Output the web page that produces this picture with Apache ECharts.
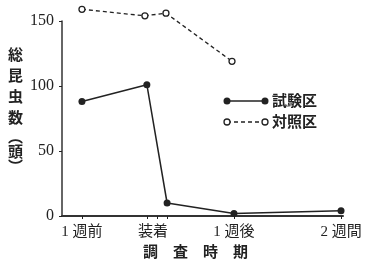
<!DOCTYPE html>
<html><head><meta charset="utf-8">
<script src="https://cdn.jsdelivr.net/npm/echarts@6/dist/echarts.min.js"></script>
<style>html,body{margin:0;padding:0;background:#fff}#c{width:369px;height:266px}</style>
</head><body><div id="c"></div>
<script>
// Data (x in arbitrary time-position units 0..100)
const xLabels = ['1 週前', '装着', '1 週後', '2 週間'];
const xLabelPos = [7.1, 32.4, 61.2, 99.3];
const xTickPos = [7.1, 30.2, 33.8, 37.4, 61.2, 99.3];
const testX = [7.1, 30.2, 37.4, 61.2, 99.3];
const testY = [88, 101, 10, 2, 4];
const ctrlX = [7.1, 29.5, 37.0, 60.5];
const ctrlY = [159, 154, 156, 119];
const yTicks = [0, 50, 100, 150];
const seriesNames = ['試験区', '対照区'];

const chart = echarts.init(document.getElementById('c'));
const ink = '#222';
const font = "'Liberation Serif', 'Noto Sans CJK JP', serif";
chart.setOption({
  animation: false,
  backgroundColor: '#fff',
  grid: { left: 62, right: 26, top: 21, bottom: 50 },
  xAxis: {
    type: 'value', min: 0, max: 100,
    splitLine: { show: false },
    axisLine: { lineStyle: { color: '#333', width: 2 } },
    axisTick: { show: true, customValues: xTickPos, length: 3, lineStyle: { color: ink } },
    axisLabel: {
      customValues: xLabelPos, margin: 9, color: ink, fontSize: 15, fontFamily: font,
      formatter: v => { const i = xLabelPos.findIndex(p => Math.abs(p - v) < 0.01); return i >= 0 ? xLabels[i] : ''; }
    }
  },
  yAxis: {
    type: 'value', min: 0, max: 150, interval: 50,
    splitLine: { show: false },
    axisLine: { show: true, lineStyle: { color: '#333', width: 1.5 } },
    axisTick: { show: true, length: 3, lineStyle: { color: ink } },
    axisLabel: { margin: 8, color: ink, fontSize: 16, fontFamily: font,
      formatter: v => yTicks.includes(v) ? String(v) : '' }
  },
  series: [
    { name: seriesNames[0], type: 'line', clip: false,
      data: testX.map((x, i) => [x, testY[i]]),
      symbol: 'circle', symbolSize: 7,
      itemStyle: { color: ink }, lineStyle: { color: ink, width: 1.5 } },
    { name: seriesNames[1], type: 'line', clip: false,
      data: ctrlX.map((x, i) => [x, ctrlY[i]]),
      symbol: 'circle', symbolSize: 6,
      itemStyle: { color: '#fff', borderColor: ink, borderWidth: 1.3 },
      lineStyle: { color: ink, width: 1.3, type: [4, 3] } }
  ],
  graphic: [
    { type: 'text', left: 8, top: 44, style: { text: '総\n昆\n虫\n数', font: "bold 15px 'Noto Sans CJK JP'", fill: ink, lineHeight: 21 } },
    { type: 'text', left: 8, top: 129, style: { text: '︵\n頭\n︶', font: "bold 15px 'Noto Sans CJK JP'", fill: ink, lineHeight: 15 } },
    { type: 'text', left: 143, top: 244, style: { text: '調　査　時　期', font: "bold 15px 'Noto Sans CJK JP'", fill: ink } },
    // legend
    { type: 'line', shape: { x1: 227, y1: 101, x2: 265, y2: 101 }, style: { stroke: ink, lineWidth: 1.5 } },
    { type: 'circle', shape: { cx: 227, cy: 101, r: 3.5 }, style: { fill: ink } },
    { type: 'circle', shape: { cx: 265, cy: 101, r: 3.5 }, style: { fill: ink } },
    { type: 'text', left: 272, top: 93, style: { text: seriesNames[0], font: "bold 15px 'Noto Sans CJK JP'", fill: ink } },
    { type: 'line', shape: { x1: 227, y1: 122, x2: 265, y2: 122 }, style: { stroke: ink, lineWidth: 1.3, lineDash: [4, 3] } },
    { type: 'circle', shape: { cx: 227, cy: 122, r: 3 }, style: { fill: '#fff', stroke: ink, lineWidth: 1.3 } },
    { type: 'circle', shape: { cx: 265, cy: 122, r: 3 }, style: { fill: '#fff', stroke: ink, lineWidth: 1.3 } },
    { type: 'text', left: 272, top: 114, style: { text: seriesNames[1], font: "bold 15px 'Noto Sans CJK JP'", fill: ink } }
  ]
});
</script></body></html>
